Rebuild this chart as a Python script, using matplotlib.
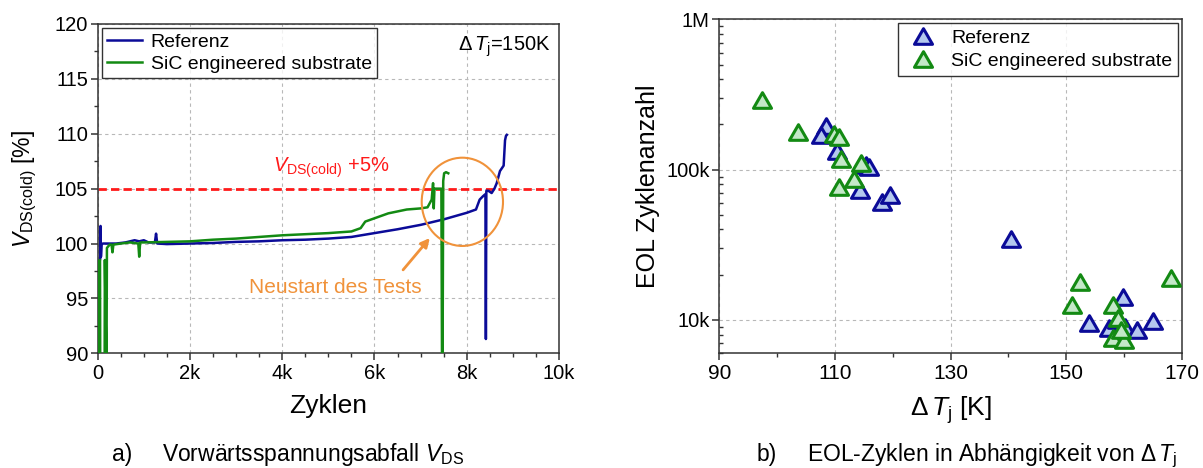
import numpy as np
import matplotlib
matplotlib.use('Agg')
import matplotlib.pyplot as plt
from matplotlib.patches import Ellipse
from matplotlib.path import Path
from matplotlib.ticker import MultipleLocator, FixedLocator, FuncFormatter, LogLocator, NullFormatter

plt.rcParams['font.family'] = ['Liberation Sans', 'DejaVu Sans']
plt.rcParams['mathtext.fontset'] = 'custom'
plt.rcParams['mathtext.rm'] = 'Liberation Sans'
plt.rcParams['mathtext.it'] = 'Liberation Sans:italic'
plt.rcParams['mathtext.bf'] = 'Liberation Sans:bold'

# --- a) V_DS(cold) ueber Zyklen
ref_cycles = [40, 55, 62, 70, 85, 110, 200, 400, 600, 700, 800, 900, 1000, 1100, 1240, 1265,
              1290, 1500, 2000, 2500, 3000, 3500, 4000, 4500, 5000, 5500, 6000, 6500, 7000,
              7500, 8000, 8200, 8280, 8350, 8405, 8415, 8425, 8470, 8540, 8600, 8650, 8720,
              8800, 8830, 8850, 8870]
ref_vds = [98.4, 98.6, 101.6, 98.8, 99.9, 100.0, 100.0, 100.0, 100.1, 100.2, 100.3, 100.2,
           100.3, 100.1, 100.1, 100.9, 100.0, 99.95, 100.0, 100.05, 100.15, 100.2, 100.3,
           100.35, 100.45, 100.6, 100.95, 101.3, 101.7, 102.2, 102.8, 103.1, 104.0, 104.3,
           104.5, 91.3, 104.8, 104.8, 104.6, 105.0, 105.5, 106.6, 107.1, 109.4, 109.8, 109.9]

sic_cycles = [15, 18, 50, 55, 150, 155, 190, 200, 260, 300, 320, 340, 500, 700, 880, 900, 920,
              1000, 1500, 2000, 2500, 3000, 3500, 4000, 4500, 5000, 5500, 5700, 5800, 6000,
              6300, 6700, 7000, 7150, 7240, 7270, 7285, 7300, 7450, 7465, 7475, 7490, 7510,
              7550, 7600]
sic_vds = [88, 98.4, 98.5, 88, 88, 98.5, 88, 99.6, 99.9, 99.9, 99.2, 99.9, 100.0, 100.1,
           100.0, 98.8, 100.1, 100.1, 100.15, 100.2, 100.35, 100.45, 100.6, 100.75, 100.85,
           100.95, 101.1, 101.4, 102.0, 102.3, 102.75, 103.1, 103.2, 103.3, 104.0, 105.5,
           103.2, 105.0, 105.0, 88, 88, 105.7, 106.4, 106.5, 106.4]

limit_vds = 105

# --- b) EOL-Zyklen ueber Delta Tj
ref_dtj = [108.5, 107.6, 110.4, 115.3, 115.8, 114.3, 118.2, 119.5, 140.4, 153.9, 157.3,
           158.8, 159.8, 160.1, 162.2, 164.9]
ref_eol = [194e3, 169e3, 133e3, 108e3, 104e3, 73e3, 61e3, 68e3, 34.8e3, 9.5e3, 8.8e3,
           10e3, 14.3e3, 9e3, 8.6e3, 9.9e3]
sic_dtj = [97.4, 103.6, 109.8, 110.7, 111.1, 114.5, 113.3, 110.7, 152.3, 150.9, 168.1,
           158.1, 159.0, 158.0, 160.0, 159.5]
sic_eol = [292e3, 178e3, 173e3, 165e3, 118e3, 110e3, 87e3, 77e3, 18e3, 12.6e3, 18.9e3,
           12.6e3, 10.3e3, 7.6e3, 7.4e3, 8.6e3]

dtj_major = [90, 110, 130, 150, 170]
dtj_minor = [100, 120, 140, 160]

c_blue = '#0b0b98'
c_green = '#138a13'
c_orange = '#f0923a'
c_spine = '#333333'
grid_kw = dict(color='#b8b8b8', linestyle=(0, (3, 3)), linewidth=0.8)

fig = plt.figure(figsize=(12.03, 4.68), dpi=100)
W, H = 1203.0, 468.0
ax1 = fig.add_axes([97.7/W, 1-353.3/H, (559-97.7)/W, (353.3-24)/H])
ax2 = fig.add_axes([719.3/W, 1-353.3/H, (1182-719.3)/W, (353.3-19.3)/H])

for ax in (ax1, ax2):
    for s in ax.spines.values():
        s.set_linewidth(1.1)
        s.set_color(c_spine)
    ax.set_axisbelow(True)

# ---------- a)
ax1.plot(ref_cycles, ref_vds, color=c_blue, lw=1.8, label='Referenz', zorder=3)
ax1.plot(sic_cycles, sic_vds, color=c_green, lw=1.8, label='SiC engineered substrate', zorder=3)
ax1.axhline(limit_vds, color='#ff1a1a', lw=2.0, dashes=(3, 1.5), zorder=2)
ax1.set_xlim(0, 10000)
ax1.set_ylim(90, 120)
ax1.xaxis.set_major_locator(MultipleLocator(2000))
ax1.xaxis.set_minor_locator(MultipleLocator(500))
ax1.yaxis.set_major_locator(MultipleLocator(5))
ax1.yaxis.set_minor_locator(MultipleLocator(2.5))
ax1.xaxis.set_major_formatter(FuncFormatter(lambda v, p: '0' if v == 0 else '%dk' % round(v/1000)))
ax1.grid(True, which='major', **grid_kw)
ax1.tick_params(which='major', direction='out', length=5, width=1.1, color=c_spine)
ax1.tick_params(which='minor', direction='out', length=3, width=1.0, color=c_spine)
ax1.tick_params(axis='x', labelsize=14.5, pad=3)
ax1.tick_params(axis='y', labelsize=14.5, pad=2)
ax1.set_xlabel('Zyklen', fontsize=19)
ax1.xaxis.set_label_coords(0.5, -0.125)
ax1.set_ylabel(r'$V_{\mathrm{DS(cold)}}$ [%]', fontsize=16.5)
ax1.yaxis.set_label_coords(-0.127, 0.5)

leg1 = ax1.legend(loc='upper left', bbox_to_anchor=(0.0, 1.0), borderaxespad=0.22,
                  fontsize=14, frameon=True, fancybox=False, handlelength=1.8,
                  handletextpad=0.45, borderpad=0.25, labelspacing=0.25)
leg1.get_frame().set_edgecolor('black')
leg1.get_frame().set_linewidth(1.0)

ax1.text(9830, 117.6, r'$\Delta\,T_{\mathrm{j}}$=150K', fontsize=14.5, ha='right', va='baseline')
ax1.text(5060, 106.55, r'$V_{\mathrm{DS(cold)}}$ +5%', fontsize=14.5, color='#ff1a1a',
         ha='center', va='baseline')
ax1.add_patch(Ellipse((7905, 103.8), 1762, 8.04, fill=False, edgecolor=c_orange, lw=1.5, zorder=4))
ax1.annotate('', xy=(7200, 100.5), xytext=(6620, 97.6),
             arrowprops=dict(arrowstyle='-|>', color=c_orange, lw=2.0, mutation_scale=13,
                             shrinkA=0, shrinkB=0))
ax1.text(5160, 96.0, 'Neustart des Tests', fontsize=15, color=c_orange, ha='center', va='center')

# ---------- b)
tri = Path([(-1, -0.866), (1, -0.866), (0, 0.866), (-1, -0.866)],
           [Path.MOVETO, Path.LINETO, Path.LINETO, Path.CLOSEPOLY])
ax2.plot(ref_dtj, ref_eol, linestyle='none', marker=tri, ms=13, mew=2.2,
         mec=c_blue, mfc='#b4c8ee', label='Referenz', zorder=3)
ax2.plot(sic_dtj, sic_eol, linestyle='none', marker=tri, ms=13, mew=2.2,
         mec=c_green, mfc='#c4e8c8', label='SiC engineered substrate', zorder=3)
ax2.set_yscale('log')
ax2.set_xlim(90, 170)
ax2.set_ylim(6000, 1e6)
ax2.xaxis.set_major_locator(FixedLocator(dtj_major))
ax2.xaxis.set_minor_locator(FixedLocator(dtj_minor))
ax2.yaxis.set_major_locator(LogLocator(base=10, numticks=10))
ax2.yaxis.set_minor_locator(LogLocator(base=10, subs=np.arange(2, 10), numticks=10))
ax2.yaxis.set_minor_formatter(NullFormatter())
ax2.yaxis.set_major_formatter(FuncFormatter(
    lambda v, p: {1e4: '10k', 1e5: '100k', 1e6: '1M'}.get(round(v), '')))
ax2.grid(True, which='major', **grid_kw)
ax2.tick_params(which='major', direction='out', length=5, width=1.1, color=c_spine)
ax2.tick_params(axis='x', which='minor', direction='out', length=3, width=1.0, color=c_spine)
ax2.tick_params(axis='y', which='minor', direction='in', length=3, width=1.0, color=c_spine)
ax2.tick_params(axis='x', labelsize=15, pad=3)
ax2.tick_params(axis='y', labelsize=14.5, pad=2)
ax2.set_xlabel(r'$\Delta\,T_{\mathrm{j}}$ [K]', fontsize=19)
ax2.xaxis.set_label_coords(0.5, -0.122)
ax2.set_ylabel('EOL Zyklenanzahl', fontsize=18)
ax2.yaxis.set_label_coords(-0.128, 0.5)

leg2 = ax2.legend(loc='upper right', bbox_to_anchor=(1.0, 1.0), borderaxespad=0.2,
                  fontsize=14, frameon=True, fancybox=False, handlelength=2.0,
                  handletextpad=0.45, borderpad=0.3, labelspacing=0.3)
leg2.get_frame().set_edgecolor('black')
leg2.get_frame().set_linewidth(1.0)

# captions
fig.text(112/W, 1-461/H, 'a)', fontsize=16.5, va='baseline')
fig.text(162/W, 1-461/H, r'Vorwärtsspannungsabfall $V_{\mathrm{DS}}$', fontsize=16.5, va='baseline')
fig.text(757/W, 1-461/H, 'b)', fontsize=16.5, va='baseline')
fig.text(807/W, 1-461/H, r'EOL-Zyklen in Abhängigkeit von $\Delta\,T_{\mathrm{j}}$', fontsize=16.5,
         va='baseline')

fig.savefig('out.png', dpi=100)
